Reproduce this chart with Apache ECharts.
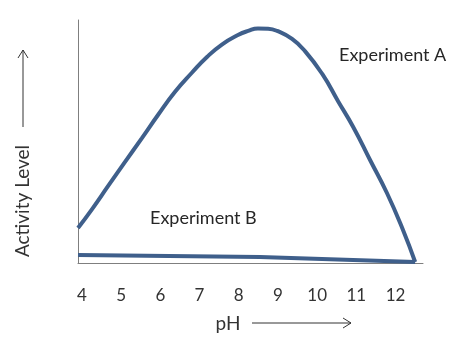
<!DOCTYPE html>
<html>
<head>
<meta charset="utf-8">
<script src="https://cdn.jsdelivr.net/npm/echarts@6/dist/echarts.min.js"></script>
<style>html,body{margin:0;padding:0;background:#fff}#c{width:450px;height:341px}</style>
</head>
<body>
<div id="c"></div>
<script>
// pH values (x) and activity level (y, relative 0-100)
var expA_pH = [3.90, 4.26, 4.67, 5.10, 5.53, 5.94, 6.37, 6.81, 7.19, 7.57, 7.98, 8.24, 8.49, 8.75, 8.98, 9.36, 9.69, 10.13, 10.53, 10.92, 11.35, 11.78, 12.19, 12.50];
var expA_act = [14.4, 22.2, 31.7, 41.6, 51.4, 60.9, 70.4, 78.4, 84.8, 89.9, 93.8, 95.5, 96.5, 96.4, 95.5, 92.2, 87.2, 77.8, 66.7, 56.0, 42.4, 28.8, 13.6, 0.4];
var expB_pH = [3.90, 8.54, 12.50];
var expB_act = [3.3, 2.5, 0.4];
var tickLabels = [4, 5, 6, 7, 8, 9, 10, 11, 12];
var seriesNames = ['Experiment A', 'Experiment B'];

function pairs(xs, ys) { return xs.map(function (x, i) { return [x, ys[i]]; }); }

var font = 'Lato, "Open Sans", sans-serif';
var lineColor = '#3f5f8b';
var chart = echarts.init(document.getElementById('c'), null, { renderer: 'canvas' });
chart.setOption({
  animation: false,
  backgroundColor: '#fff',
  grid: { left: 78, right: 27, top: 20, bottom: 78 },
  xAxis: {
    type: 'value', min: 3.9, max: 12.7,
    axisLine: { show: true, lineStyle: { color: '#7f7f7f', width: 1 } },
    axisTick: { show: false },
    splitLine: { show: false },
    axisLabel: { customValues: tickLabels, margin: 24, fontSize: 17, color: '#333', fontFamily: font }
  },
  yAxis: {
    type: 'value', min: 0, max: 100,
    axisLine: { show: true, lineStyle: { color: '#7f7f7f', width: 1 } },
    axisTick: { show: false },
    splitLine: { show: false },
    axisLabel: { show: false }
  },
  graphic: [
    { type: 'text', x: 339, y: 55, style: { text: seriesNames[0], font: '18px ' + font, fill: '#262626', verticalAlign: 'middle' } },
    { type: 'text', x: 150, y: 218, style: { text: seriesNames[1], font: '18px ' + font, fill: '#262626', verticalAlign: 'middle' } },
    { type: 'text', x: 23, y: 201, rotation: Math.PI / 2, style: { text: 'Activity Level', font: '19px ' + font, fill: '#333', align: 'center', verticalAlign: 'middle' } },
    { type: 'line', shape: { x1: 23, y1: 127, x2: 23, y2: 50 }, style: { stroke: '#333', lineWidth: 1 } },
    { type: 'polyline', shape: { points: [[18, 58], [23, 50], [28, 58]] }, style: { stroke: '#333', lineWidth: 1, fill: null } },
    { type: 'text', x: 228, y: 324, style: { text: 'pH', font: '19px ' + font, fill: '#333', align: 'center', verticalAlign: 'middle' } },
    { type: 'line', shape: { x1: 252, y1: 323, x2: 351, y2: 323 }, style: { stroke: '#333', lineWidth: 1 } },
    { type: 'polyline', shape: { points: [[343, 318], [351, 323], [343, 328]] }, style: { stroke: '#333', lineWidth: 1, fill: null } }
  ],
  series: [
    { name: seriesNames[0], type: 'line', data: pairs(expA_pH, expA_act), smooth: 0.5, showSymbol: false,
      lineStyle: { color: lineColor, width: 4 } },
    { name: seriesNames[1], type: 'line', data: pairs(expB_pH, expB_act), smooth: false, showSymbol: false,
      lineStyle: { color: lineColor, width: 4 } }
  ]
});
</script>
</body>
</html>
